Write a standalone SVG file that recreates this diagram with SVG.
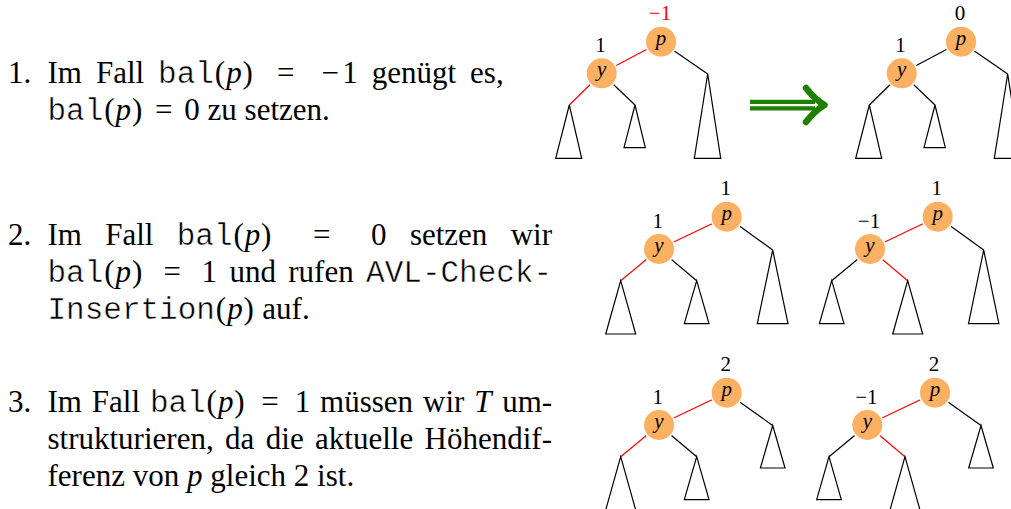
<svg xmlns="http://www.w3.org/2000/svg" width="1011" height="509" viewBox="0 0 1011 509">
<style>
.t{font-family:"Liberation Serif","Times New Roman",serif;font-size:31px;fill:#000}
.m{font-family:"Liberation Mono","Courier New",monospace;stroke:#fff;stroke-width:0.45}
.i{font-style:italic}
.lbl{font-family:"Liberation Serif","Times New Roman",serif;font-size:21px;text-anchor:middle;fill:#000}
.red{fill:#f00}
.node circle{fill:#fbb062;stroke:#fff;stroke-width:1.6}
.node text.nl{font-family:"Liberation Serif","Times New Roman",serif;font-style:italic;font-size:21px;text-anchor:middle;fill:#000}
.e{stroke:#000;stroke-width:1.2;fill:none}
.er{stroke:#f00;stroke-width:1.2;fill:none}
.tri{fill:none;stroke:#000;stroke-width:1.2;stroke-linejoin:miter}
.ar{stroke:#1f7f00;fill:none}
</style>

<g id="text">
<text class="t" y="82.5"><tspan x="8">1.</tspan><tspan x="47.5">Im</tspan><tspan x="95.9">Fall</tspan><tspan x="158.1" class="m">bal</tspan><tspan x="214.8">(</tspan><tspan x="226.2" class="i">p</tspan><tspan x="242.5">)</tspan><tspan x="277.1">=</tspan><tspan x="321.4">−</tspan><tspan x="342.2">1</tspan><tspan x="371.7">genügt</tspan><tspan x="470.1">es,</tspan></text>
<text class="t" y="119.5"><tspan x="47.5" class="m">bal</tspan><tspan x="104.2">(</tspan><tspan x="115.6" class="i">p</tspan><tspan x="131.9">)</tspan><tspan x="154.9">=</tspan><tspan x="184.3">0</tspan><tspan x="207.6">zu</tspan><tspan x="244.6">setzen.</tspan></text>

<text class="t" y="244.5"><tspan x="8">2.</tspan><tspan x="47.5">Im</tspan><tspan x="105.2">Fall</tspan><tspan x="176.7" class="m">bal</tspan><tspan x="233.4">(</tspan><tspan x="244.8" class="i">p</tspan><tspan x="261.1">)</tspan><tspan x="312.9">=</tspan><tspan x="371.1">0</tspan><tspan x="409.9">setzen</tspan><tspan x="510.7">wir</tspan></text>
<text class="t" y="281.5"><tspan x="47.5" class="m">bal</tspan><tspan x="104.2">(</tspan><tspan x="115.6" class="i">p</tspan><tspan x="131.9">)</tspan><tspan x="163.5">=</tspan><tspan x="201.5">1</tspan><tspan x="229.4">und</tspan><tspan x="288.3">rufen</tspan><tspan x="366.1" class="m">AVL-Check-</tspan></text>
<text class="t" y="318.5"><tspan x="47.5" class="m">Insertion</tspan><tspan x="215.8">(</tspan><tspan x="227.2" class="i">p</tspan><tspan x="243.5">)</tspan><tspan x="262.3">auf.</tspan></text>

<text class="t" y="411.5"><tspan x="8">3.</tspan><tspan x="47.5">Im</tspan><tspan x="91.8">Fall</tspan><tspan x="149.9" class="m">bal</tspan><tspan x="206.6">(</tspan><tspan x="218" class="i">p</tspan><tspan x="234.3">)</tspan><tspan x="261.3">=</tspan><tspan x="294.7">1</tspan><tspan x="320.1">müssen</tspan><tspan x="423">wir</tspan><tspan x="474.2" class="i">T</tspan><tspan x="502.2">um-</tspan></text>
<text class="t" y="448.5"><tspan x="47.5">strukturieren,</tspan><tspan x="225.1">da</tspan><tspan x="265.8">die</tspan><tspan x="315.1">aktuelle</tspan><tspan x="424.6">Höhendif-</tspan></text>
<text class="t" y="485.5"><tspan x="47.5">ferenz</tspan><tspan x="132.7">von</tspan><tspan x="187" class="i">p</tspan><tspan x="210.3">gleich</tspan><tspan x="293.8">2</tspan><tspan x="317.1">ist.</tspan></text>
</g>

<g id="connectors">
<line class="er" x1="661" y1="41.7" x2="601.7" y2="73.3"/>
<line class="er" x1="601.7" y1="73.3" x2="569.3" y2="105"/>
<line class="e" x1="601.7" y1="73.3" x2="635" y2="105"/>
<line class="e" x1="661" y1="41.7" x2="707.7" y2="74"/>
<line class="e" x1="961" y1="41.7" x2="901.7" y2="73.3"/>
<line class="e" x1="901.7" y1="73.3" x2="869.3" y2="105"/>
<line class="e" x1="901.7" y1="73.3" x2="935" y2="105"/>
<line class="e" x1="961" y1="41.7" x2="1007.7" y2="74"/>
<line class="er" x1="726.7" y1="216.7" x2="659" y2="249"/>
<line class="er" x1="659" y1="249" x2="620.7" y2="280.7"/>
<line class="e" x1="659" y1="249" x2="696.7" y2="280.7"/>
<line class="e" x1="726.7" y1="216.7" x2="772.7" y2="250"/>
<line class="er" x1="937.7" y1="216.7" x2="870" y2="249"/>
<line class="e" x1="870" y1="249" x2="831.7" y2="280.7"/>
<line class="er" x1="870" y1="249" x2="907.7" y2="280.7"/>
<line class="e" x1="937.7" y1="216.7" x2="983.7" y2="250"/>
<line class="er" x1="726.7" y1="392.7" x2="659" y2="425"/>
<line class="er" x1="659" y1="425" x2="620.7" y2="456.7"/>
<line class="e" x1="659" y1="425" x2="696.7" y2="456.7"/>
<line class="e" x1="726.7" y1="392.7" x2="772.7" y2="425.5"/>
<line class="er" x1="935" y1="392.7" x2="867.3" y2="425"/>
<line class="e" x1="867.3" y1="425" x2="829" y2="456.7"/>
<line class="er" x1="867.3" y1="425" x2="905" y2="456.7"/>
<line class="e" x1="935" y1="392.7" x2="981" y2="425.5"/>
</g>

<g id="subtrees">
<polygon class="tri" points="569.3,105 555.7,158.3 581.7,158.3"/>
<polygon class="tri" points="635,105 624,147.7 645.3,147.7"/>
<polygon class="tri" points="707.7,74 694.3,158.3 720.7,158.3"/>
<polygon class="tri" points="869.3,105 855.7,158.3 881.7,158.3"/>
<polygon class="tri" points="935,105 924,147.7 945.3,147.7"/>
<polygon class="tri" points="1007.7,74 994.3,158.3 1020.7,158.3"/>
<polygon class="tri" points="620.7,280.7 605.7,334 635.7,334"/>
<polygon class="tri" points="696.7,280.7 684.3,323.7 709,323.7"/>
<polygon class="tri" points="772.7,250 757.3,323.7 788,323.7"/>
<polygon class="tri" points="831.7,280.7 819.4,323.7 844,323.7"/>
<polygon class="tri" points="907.7,280.7 892.7,334 922.7,334"/>
<polygon class="tri" points="983.7,250 968.5,323.7 998.9,323.7"/>
<polygon class="tri" points="620.7,456.7 605.7,510 635.7,510"/>
<polygon class="tri" points="696.7,456.7 684.3,499.7 709,499.7"/>
<polygon class="tri" points="772.7,425.5 760.4,468 785,468"/>
<polygon class="tri" points="829,456.7 816.7,499.7 841.3,499.7"/>
<polygon class="tri" points="905,456.7 890,510 920,510"/>
<polygon class="tri" points="981,425.5 968.7,468 993.3,468"/>
</g>

<g id="t1-p" class="node"><circle cx="661" cy="41.7" r="15.8"/><text class="nl" x="661" y="44.7">p</text><text class="lbl red" x="660" y="20.4">−1</text></g>
<g id="t1-y" class="node"><circle cx="601.7" cy="73.3" r="15.8"/><text class="nl" x="601.7" y="76.3">y</text><text class="lbl" x="600.5" y="52">1</text></g>
<g id="t2-p" class="node"><circle cx="961" cy="41.7" r="15.8"/><text class="nl" x="961" y="44.7">p</text><text class="lbl" x="960" y="20.4">0</text></g>
<g id="t2-y" class="node"><circle cx="901.7" cy="73.3" r="15.8"/><text class="nl" x="901.7" y="76.3">y</text><text class="lbl" x="900.5" y="52">1</text></g>
<g id="t3-p" class="node"><circle cx="726.7" cy="216.7" r="15.8"/><text class="nl" x="726.7" y="219.7">p</text><text class="lbl" x="725.7" y="195.4">1</text></g>
<g id="t3-y" class="node"><circle cx="659" cy="249" r="15.8"/><text class="nl" x="659" y="252">y</text><text class="lbl" x="657.8" y="227.7">1</text></g>
<g id="t4-p" class="node"><circle cx="937.7" cy="216.7" r="15.8"/><text class="nl" x="937.7" y="219.7">p</text><text class="lbl" x="936.7" y="195.4">1</text></g>
<g id="t4-y" class="node"><circle cx="870" cy="249" r="15.8"/><text class="nl" x="870" y="252">y</text><text class="lbl" x="869" y="227.7">−1</text></g>
<g id="t5-p" class="node"><circle cx="726.7" cy="392.7" r="15.8"/><text class="nl" x="726.7" y="395.7">p</text><text class="lbl" x="725.7" y="371.4">2</text></g>
<g id="t5-y" class="node"><circle cx="659" cy="425" r="15.8"/><text class="nl" x="659" y="428">y</text><text class="lbl" x="657.8" y="403.7">1</text></g>
<g id="t6-p" class="node"><circle cx="935" cy="392.7" r="15.8"/><text class="nl" x="935" y="395.7">p</text><text class="lbl" x="934" y="371.4">2</text></g>
<g id="t6-y" class="node"><circle cx="867.3" cy="425" r="15.8"/><text class="nl" x="867.3" y="428">y</text><text class="lbl" x="866.3" y="403.7">−1</text></g>

<g id="arrow">
<line class="ar" x1="750" y1="101.8" x2="815" y2="101.8" stroke-width="4.2"/>
<line class="ar" x1="750" y1="108.4" x2="815" y2="108.4" stroke-width="4.2"/>
<path class="ar" d="M806,88 Q815,99.5 824.5,105 Q815,110.5 806,122" stroke-width="6.5" stroke-linecap="round" stroke-linejoin="round"/>
</g>
</svg>
